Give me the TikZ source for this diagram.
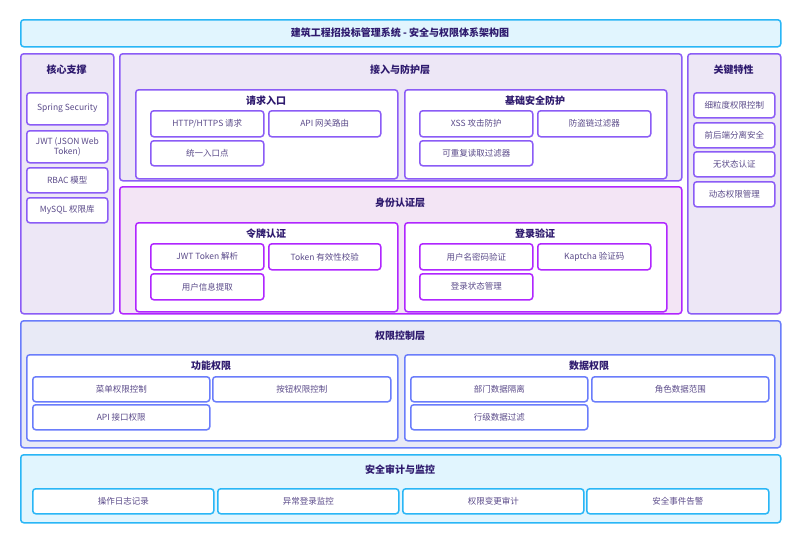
\documentclass[tikz,border=0pt]{standalone}
\usepackage{fontspec}
\setmainfont{Noto Sans CJK SC}
\definecolor{cyfill}{HTML}{E1F5FE}
\definecolor{cydraw}{HTML}{29B6F6}
\definecolor{pufill}{HTML}{EDE7F6}
\definecolor{pudraw}{HTML}{8B5CF6}
\definecolor{mafill}{HTML}{F3E5F5}
\definecolor{madraw}{HTML}{B026FF}
\definecolor{blfill}{HTML}{E8EAF6}
\definecolor{bldraw}{HTML}{6A7DFB}
\definecolor{ttltext}{HTML}{2E1A6E}
\definecolor{itemtext}{HTML}{5B4B8A}
\tikzset{
  box/.style={rectangle, rounded corners=3pt, inner sep=0pt, line width=1.5pt},
  cybox/.style={box, draw=cydraw, fill=cyfill},
  pubox/.style={box, draw=pudraw, fill=pufill},
  mabox/.style={box, draw=madraw, fill=mafill},
  blbox/.style={box, draw=bldraw, fill=blfill},
  puin/.style={box, draw=pudraw, fill=white},
  main/.style={box, draw=madraw, fill=white},
  blin/.style={box, draw=bldraw, fill=white},
  cyin/.style={box, draw=cydraw, fill=white},
  itemtxt/.style={text=itemtext, font=\fontsize{8.5}{10}\selectfont, align=center},
  puitem/.style={puin, itemtxt},
  maitem/.style={main, itemtxt},
  blitem/.style={blin, itemtxt},
  cyitem/.style={cyin, itemtxt},
  ttl/.style={text=ttltext, font=\fontsize{10}{12}\selectfont\bfseries, inner sep=0pt},
}
\newcommand\bx[7]{\node[#6, anchor=north west, minimum width={(#4-#2)*1pt}, minimum height={(#5-#3)*1pt}] (#1) at (#2,#3) {#7};}
\begin{document}
\begin{tikzpicture}[x=1pt,y=-1pt]
\useasboundingbox (0,0) rectangle (800,542);
% title
\bx{title}{20}{19}{780}{46}{cybox}{}
\node[ttl] (titletext) at (400,33) {建筑工程招投标管理系统 - 安全与权限体系架构图};
% core support
\bx{core}{20}{53}{113}{313}{pubox}{}
\node[ttl] (coret) at (66.5,70) {核心支撑};
\bx{spring}{26}{92}{107}{124}{puitem}{Spring Security}
\bx{jwt}{26}{130}{107}{162}{puitem}{JWT (JSON Web\\Token)}
\bx{rbac}{26}{167}{107}{192}{puitem}{RBAC 模型}
\bx{mysql}{26}{197}{107}{222}{puitem}{MySQL 权限库}
% access layer
\bx{access}{119}{53}{681}{180}{pubox}{}
\node[ttl] (accesst) at (400,70) {接入与防护层};
\bx{req}{135}{89}{397}{178}{puin}{}
\node[ttl] (reqt) at (266,101) {请求入口};
\bx{http}{150}{110}{263}{136}{puitem}{HTTP/HTTPS 请求}
\bx{gw}{268}{110}{380}{136}{puitem}{API 网关路由}
\bx{entry}{150}{140}{263}{165}{puitem}{统一入口点}
\bx{basic}{404}{89}{666}{178}{puin}{}
\node[ttl] (basict) at (535,101) {基础安全防护};
\bx{xss}{419}{110}{532}{136}{puitem}{XSS 攻击防护}
\bx{anti}{537}{110}{650}{136}{puitem}{防盗链过滤器}
\bx{reread}{419}{140}{532}{165}{puitem}{可重复读取过滤器}
% identity layer
\bx{ident}{119}{186}{681}{313}{mabox}{}
\node[ttl] (identt) at (400,203) {身份认证层};
\bx{token}{135}{222}{397}{311}{main}{}
\node[ttl] (tokent) at (266,234) {令牌认证};
\bx{jwtp}{150}{243}{263}{269}{maitem}{JWT Token 解析}
\bx{valid}{268}{243}{380}{269}{maitem}{Token 有效性校验}
\bx{uinfo}{150}{273}{263}{299}{maitem}{用户信息提取}
\bx{login}{404}{222}{666}{311}{main}{}
\node[ttl] (logint) at (535,234) {登录验证};
\bx{upw}{419}{243}{532}{269}{maitem}{用户名密码验证}
\bx{kap}{537}{243}{650}{269}{maitem}{Kaptcha 验证码}
\bx{lstate}{419}{273}{532}{299}{maitem}{登录状态管理}
% key features
\bx{feat}{687}{53}{780}{313}{pubox}{}
\node[ttl] (featt) at (733.5,70) {关键特性};
\bx{f1}{693}{92}{774}{117}{puitem}{细粒度权限控制}
\bx{f2}{693}{122}{774}{147}{puitem}{前后端分离安全}
\bx{f3}{693}{151}{774}{176}{puitem}{无状态认证}
\bx{f4}{693}{181}{774}{206}{puitem}{动态权限管理}
% permission layer
\bx{perm}{20}{320}{780}{447}{blbox}{}
\node[ttl] (permt) at (400,336) {权限控制层};
\bx{func}{26}{354}{397}{440}{blin}{}
\node[ttl] (funct) at (211,366) {功能权限};
\bx{menu}{32}{376}{209}{401}{blitem}{菜单权限控制}
\bx{btn}{212}{376}{390}{401}{blitem}{按钮权限控制}
\bx{apip}{32}{404}{209}{429}{blitem}{API 接口权限}
\bx{data}{404}{354}{774}{440}{blin}{}
\node[ttl] (datat) at (589,366) {数据权限};
\bx{dept}{410}{376}{587}{401}{blitem}{部门数据隔离}
\bx{role}{591}{376}{768}{401}{blitem}{角色数据范围}
\bx{row}{410}{404}{587}{429}{blitem}{行级数据过滤}
% audit
\bx{audit}{20}{454}{780}{522}{cybox}{}
\node[ttl] (auditt) at (400,470) {安全审计与监控};
\bx{a1}{32}{488}{213}{513}{cyitem}{操作日志记录}
\bx{a2}{217}{488}{398}{513}{cyitem}{异常登录监控}
\bx{a3}{402}{488}{583}{513}{cyitem}{权限变更审计}
\bx{a4}{586}{488}{768}{513}{cyitem}{安全事件告警}
\end{tikzpicture}
\end{document}
